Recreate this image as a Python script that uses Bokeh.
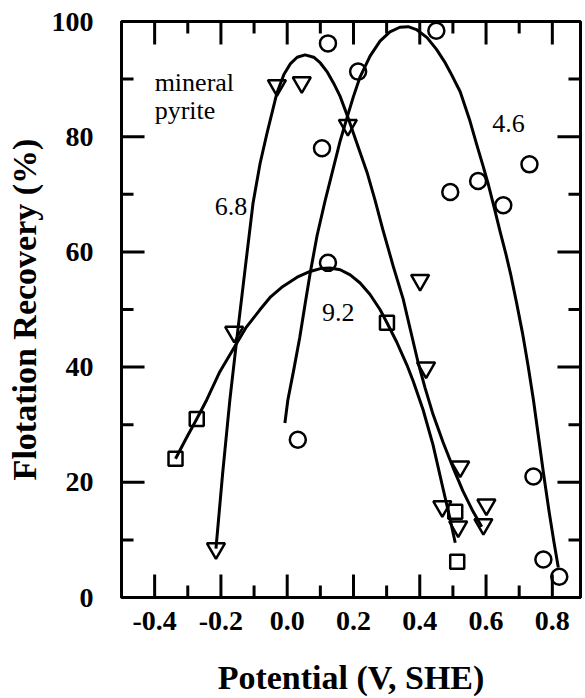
from bokeh.plotting import figure
from bokeh.models import FixedTicker, Range1d
from bokeh.core.properties import value
from bokeh.embed import file_html
from bokeh.resources import INLINE

# ---- data ----
x_ticks = [-0.4, -0.2, 0.0, 0.2, 0.4, 0.6, 0.8]
x_tick_labels = ["-0.4", "-0.2", "0.0", "0.2", "0.4", "0.6", "0.8"]
x_minor = [-0.3, -0.1, 0.1, 0.3, 0.5, 0.7]
y_ticks = [0, 20, 40, 60, 80, 100]
y_tick_labels = ["0", "20", "40", "60", "80", "100"]
y_minor = [10, 30, 50, 70, 90]
X_MIN, X_MAX = -0.5, 0.885
Y_MIN, Y_MAX = 0, 100

# pH 4.6 (circles)
circ_x = [0.032, 0.123, 0.214, 0.105, 0.450, 0.492, 0.576, 0.652, 0.731, 0.743, 0.773, 0.821, 0.123]
circ_y = [27.4, 96.2, 91.3, 78.0, 98.4, 70.4, 72.3, 68.1, 75.2, 21.0, 6.6, 3.6, 58.1]
# pH 6.8 (inverted triangles)
tri_x = [-0.031, 0.044, 0.183, 0.401, 0.419, 0.522, 0.468, 0.516, 0.601, 0.592, -0.160, -0.215]
tri_y = [88.9, 89.4, 82.0, 55.1, 39.9, 22.7, 15.8, 12.3, 16.1, 12.7, 46.1, 8.5]
# pH 9.2 (squares)
sq_x = [-0.337, -0.273, 0.301, 0.507, 0.513]
sq_y = [24.1, 31.0, 47.7, 14.9, 6.2]

# fitted curves
c46_x = [-0.007, 0.002, 0.020, 0.038, 0.055, 0.069, 0.090, 0.114, 0.138, 0.160, 0.183, 0.200,
         0.220, 0.250, 0.280, 0.310, 0.340, 0.365, 0.390, 0.422, 0.450, 0.475, 0.492, 0.522,
         0.550, 0.573, 0.590, 0.607, 0.625, 0.643, 0.660, 0.674, 0.692, 0.710, 0.727, 0.743,
         0.758, 0.773, 0.790, 0.805, 0.818]
c46_y = [30.3, 34.3, 39.6, 45.2, 51.3, 56.2, 62.8, 68.8, 74.3, 79.3, 83.8, 87.0,
         90.4, 94.0, 96.6, 98.2, 99.0, 99.1, 98.6, 97.2, 95.2, 93.0, 91.2, 87.8,
         83.0, 78.4, 75.1, 71.7, 67.6, 63.4, 59.6, 56.2, 51.2, 45.9, 40.2, 34.3,
         28.0, 21.7, 15.0, 9.6, 5.2]
c68_x = [-0.215, -0.195, -0.173, -0.150, -0.125, -0.103, -0.082, -0.061, -0.031, -0.010, 0.010,
         0.030, 0.054, 0.080, 0.100, 0.120, 0.140, 0.159, 0.183, 0.210, 0.241, 0.265, 0.289,
         0.320, 0.350, 0.372, 0.395, 0.416, 0.440, 0.470, 0.500, 0.530, 0.560, 0.587]
c68_y = [8.5, 21.4, 34.3, 45.9, 58.0, 68.5, 75.3, 80.6, 87.6, 90.8, 92.7,
         93.8, 94.2, 93.8, 92.8, 91.3, 89.3, 87.1, 83.4, 78.9, 73.8, 69.0, 63.8,
         57.5, 51.8, 46.4, 40.8, 36.4, 31.8, 27.0, 22.6, 18.5, 15.0, 12.3]
c92_x = [-0.337, -0.305, -0.273, -0.243, -0.205, -0.164, -0.125, -0.083, -0.050, -0.013, 0.030,
         0.069, 0.100, 0.129, 0.160, 0.190, 0.220, 0.250, 0.280, 0.301, 0.330, 0.361, 0.380,
         0.410, 0.440, 0.471, 0.490, 0.507]
c92_y = [24.1, 27.6, 31.0, 34.3, 39.0, 43.0, 46.8, 49.9, 52.2, 54.0, 55.6,
         56.6, 57.1, 57.2, 56.9, 56.0, 54.6, 52.6, 50.0, 47.7, 44.4, 40.4, 37.6,
         32.6, 26.5, 18.7, 14.0, 9.5]

# in-plot annotations
note_x = [-0.40, -0.40, -0.219, 0.105, 0.619]
note_y = [89.4, 84.6, 67.8, 49.4, 82.3]
note_text = ["mineral", "pyrite", "6.8", "9.2", "4.6"]

FONT = "Liberation Serif"
PX_X, PX_Y = 330.8, 5.77          # frame scale: px per volt, px per %
MAJ, MIN, INSET = 23, 12, 1.2      # tick lengths and start offset from the frame edge, px

p = figure(width=585, height=698, x_range=Range1d(X_MIN, X_MAX), y_range=Range1d(Y_MIN, Y_MAX),
           output_backend="svg", toolbar_location=None,
           min_border_left=121, min_border_right=5, min_border_top=21, min_border_bottom=100)
p.grid.visible = False
p.outline_line_color = "black"
p.outline_line_width = 3


def style_axis(ax, ticks, labels):
    ax.ticker = FixedTicker(ticks=ticks)
    ax.axis_line_color = "black"
    ax.axis_line_width = 3
    ax.major_tick_in = 0
    ax.major_tick_out = 0
    ax.minor_tick_in = 0
    ax.minor_tick_out = 0
    ax.major_label_overrides = {t: l for t, l in zip(ticks, labels)}
    ax.major_label_text_font = FONT
    ax.major_label_text_font_style = "bold"
    ax.major_label_text_font_size = "28px"
    ax.major_label_text_color = "black"
    ax.axis_label_text_font = FONT
    ax.axis_label_text_font_style = "bold"
    ax.axis_label_text_font_size = "34px"
    ax.axis_label_text_color = "black"


xa = p.xaxis[0]
style_axis(xa, x_ticks, x_tick_labels)
xa.major_label_standoff = 14
xa.axis_label = "Potential (V, SHE)"
xa.axis_label_standoff = 26

ya = p.yaxis[0]
style_axis(ya, y_ticks, y_tick_labels)
ya.major_label_standoff = 28
ya.axis_label = "Flotation Recovery (%)"
ya.axis_label_standoff = 6

# curves
for cx, cy in [(c46_x, c46_y), (c68_x, c68_y), (c92_x, c92_y)]:
    p.line(cx, cy, line_color="black", line_width=3, line_join="round")

# markers
p.scatter(circ_x, circ_y, marker="circle", size=16, fill_color=None, line_color="black", line_width=2.5)
p.scatter(tri_x, tri_y, marker="inverted_triangle", size=18, fill_color=None, line_color="black", line_width=2.5)
p.scatter(sq_x, sq_y, marker="square", size=14, fill_color=None, line_color="black", line_width=2.5)

# in-plot texts as a text glyph
p.text(note_x, note_y, text=note_text, text_font=value(FONT), text_font_size="26px",
       text_color="black", text_align="left", text_baseline="alphabetic")

# inward ticks on all four sides, built from the tick lists: one broken line (NaN gaps), drawn last
tx, ty = [], []
nan = float("nan")
for xs, L in [(x_ticks, MAJ), (x_minor, MIN)]:
    for x in xs:
        tx += [x, x, nan, x, x, nan]
        ty += [Y_MIN + INSET / PX_Y, Y_MIN + L / PX_Y, nan,
               Y_MAX - INSET / PX_Y, Y_MAX - L / PX_Y, nan]
for ys, L in [(y_ticks, MAJ), (y_minor, MIN)]:
    for y in ys:
        tx += [X_MIN + INSET / PX_X, X_MIN + L / PX_X, nan,
               X_MAX - INSET / PX_X, X_MAX - L / PX_X, nan]
        ty += [y, y, nan, y, y, nan]
p.line(tx, ty, line_color="black", line_width=3)

open("out.html", "w").write(file_html(p, INLINE))
